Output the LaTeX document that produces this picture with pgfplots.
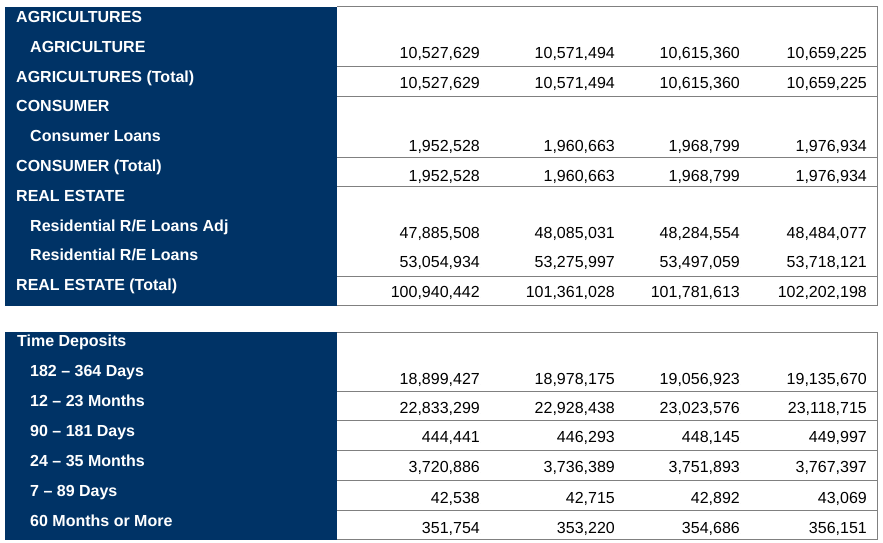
\documentclass[border=0pt]{standalone}
\usepackage{fontspec}
\setmainfont{Liberation Sans}
\usepackage{pgfplots}
\usepackage{pgfplotstable}
\pgfplotsset{compat=1.18}
\definecolor{navy}{RGB}{0,51,102}
\definecolor{gridc}{RGB}{128,128,128}
\tikzset{lab/.style={anchor=base west, inner sep=0pt, text=white,
      font=\fontsize{16bp}{19bp}\selectfont\bfseries}}
\pgfplotstableread{
y c1 c2 c3 c4
59 10,527,629 10,571,494 10,615,360 10,659,225
89 10,527,629 10,571,494 10,615,360 10,659,225
151 1,952,528 1,960,663 1,968,799 1,976,934
181 1,952,528 1,960,663 1,968,799 1,976,934
238 47,885,508 48,085,031 48,284,554 48,484,077
267 53,054,934 53,275,997 53,497,059 53,718,121
297 100,940,442 101,361,028 101,781,613 102,202,198
384 18,899,427 18,978,175 19,056,923 19,135,670
413 22,833,299 22,928,438 23,023,576 23,118,715
442 444,441 446,293 448,145 449,997
472 3,720,886 3,736,389 3,751,893 3,767,397
503 42,538 42,715 42,892 43,069
533 351,754 353,220 354,686 356,151
}\numtbl
\begin{document}
\begin{tikzpicture}
\useasboundingbox (0,0) rectangle (883bp,543bp);
\begin{axis}[
  at={(0,0)}, anchor=south west,
  width=883bp, height=543bp, scale only axis,
  xmin=0, xmax=883, ymin=0, ymax=543, y dir=reverse,
  hide axis, clip=false,
  numcol/.style={only marks, mark=*, mark size=0pt, mark options={draw=none, fill=none},
    nodes near coords, point meta=explicit symbolic,
    nodes near coords style={anchor=base east, inner sep=0pt, text=black,
      font=\fontsize{16bp}{19bp}\selectfont}},
]
% blue label blocks
\addplot[fill=navy, draw=none] coordinates {(5,7) (337,7) (337,305.5) (5,305.5)} -- cycle;
\addplot[fill=navy, draw=none] coordinates {(5,331.5) (337,331.5) (337,539.5) (5,539.5)} -- cycle;
% grid lines, top table
\addplot[gridc, line width=1bp] coordinates {(337,7) (877,7) (877,305) (337,305)};
\addplot[gridc, line width=1bp] coordinates {(337,67) (877,67)};
\addplot[gridc, line width=1bp] coordinates {(337,97) (877,97)};
\addplot[gridc, line width=1bp] coordinates {(337,157) (877,157)};
\addplot[gridc, line width=1bp] coordinates {(337,186) (877,186)};
\addplot[gridc, line width=1bp] coordinates {(337,276) (877,276)};
% grid lines, bottom table
\addplot[gridc, line width=1bp] coordinates {(337,332) (877,332) (877,539) (337,539)};
\addplot[gridc, line width=1bp] coordinates {(337,391) (877,391)};
\addplot[gridc, line width=1bp] coordinates {(337,420) (877,420)};
\addplot[gridc, line width=1bp] coordinates {(337,450) (877,450)};
\addplot[gridc, line width=1bp] coordinates {(337,480) (877,480)};
\addplot[gridc, line width=1bp] coordinates {(337,510) (877,510)};
% numbers
\addplot[numcol] table[x expr=480, y=y, meta=c1] {\numtbl};
\addplot[numcol] table[x expr=615, y=y, meta=c2] {\numtbl};
\addplot[numcol] table[x expr=740, y=y, meta=c3] {\numtbl};
\addplot[numcol] table[x expr=867, y=y, meta=c4] {\numtbl};
% labels
\node[lab] at (axis cs:16,22.7) {AGRICULTURES};
\node[lab] at (axis cs:30,52.7) {AGRICULTURE};
\node[lab] at (axis cs:16,82.5) {AGRICULTURES (Total)};
\node[lab] at (axis cs:16,111.7) {CONSUMER};
\node[lab] at (axis cs:30,141.7) {Consumer Loans};
\node[lab] at (axis cs:16,171.5) {CONSUMER (Total)};
\node[lab] at (axis cs:16,201.7) {REAL ESTATE};
\node[lab] at (axis cs:30,231.2) {Residential R/E Loans Adj};
\node[lab] at (axis cs:30,260.5) {Residential R/E Loans};
\node[lab] at (axis cs:16,290.3) {REAL ESTATE (Total)};
\node[lab] at (axis cs:17,346.5) {Time Deposits};
\node[lab] at (axis cs:30,376.5) {182 – 364 Days};
\node[lab] at (axis cs:30,406.5) {12 – 23 Months};
\node[lab] at (axis cs:30,436.5) {90 – 181 Days};
\node[lab] at (axis cs:30,466.5) {24 – 35 Months};
\node[lab] at (axis cs:30,496.5) {7 – 89 Days};
\node[lab] at (axis cs:30,526.5) {60 Months or More};
\end{axis}
\end{tikzpicture}
\end{document}
